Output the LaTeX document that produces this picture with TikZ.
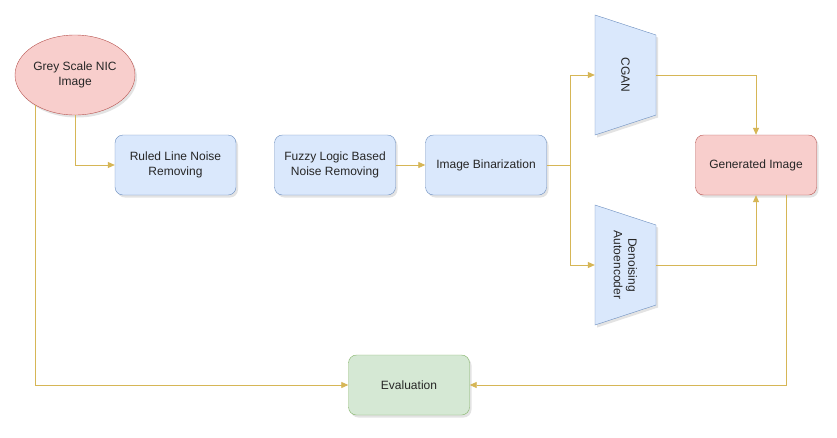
\documentclass[tikz,border=0pt]{standalone}
\usepackage{fontspec}
\setmainfont{Liberation Sans}
\usetikzlibrary{arrows.meta,shadows,shapes.geometric}
\definecolor{bfill}{HTML}{DAE8FC}
\definecolor{bdraw}{HTML}{6C8EBF}
\definecolor{rfill}{HTML}{F8CECC}
\definecolor{rdraw}{HTML}{B85450}
\definecolor{gfill}{HTML}{D5E8D4}
\definecolor{gdraw}{HTML}{82B366}
\definecolor{edge}{HTML}{D6B656}
\tikzset{
  shd/.style={drop shadow={shadow xshift=2pt,shadow yshift=-2.5pt,opacity=0.22,fill=gray}},
  procbox/.style={draw=bdraw,fill=bfill,rounded corners=8pt,minimum width=121pt,minimum height=60pt,align=center,inner sep=0pt,shd},
  conn/.style={draw=edge,line width=0.8pt,-{Triangle[length=7pt,width=6pt]}},
  plain/.style={draw=edge,line width=0.8pt},
  lbl/.style={font=\fontsize{12}{14.5}\selectfont,text=black!85}
}
\begin{document}
\begin{tikzpicture}[x=1pt,y=-1pt]
\useasboundingbox (0,0) rectangle (837,437);
\fill[white] (0,0) rectangle (837,437);

% ellipse
\node[ellipse,draw=rdraw,fill=rfill,minimum width=120pt,minimum height=80pt,inner sep=0pt,shd,align=center,lbl] (grey) at (75,75) {Grey Scale NIC\\Image};

\node[procbox,lbl] (ruled) at (175.5,165) {Ruled Line Noise\\Removing};
\node[procbox,lbl] (fuzzy) at (335,165) {Fuzzy Logic Based\\Noise Removing};
\node[procbox,lbl] (binar) at (486,165) {Image Binarization};
\node[procbox,draw=rdraw,fill=rfill,lbl] (gen) at (756,165) {Generated Image};
\node[procbox,draw=gdraw,fill=gfill,lbl] (eval) at (409,385) {Evaluation};

% trapezoids
\fill[gray,opacity=0.22] (597,17.5) -- (658,37.5) -- (658,117.5) -- (597,137.5) -- cycle;
\draw[draw=bdraw,fill=bfill] (595,15) -- (656,35) -- (656,115) -- (595,135) -- cycle;
\node[minimum width=61pt,minimum height=120pt,inner sep=0pt] (cgan) at (625.5,75) {};
\node[lbl,rotate=-90] at (cgan.center) {CGAN};

\fill[gray,opacity=0.22] (597,207.5) -- (658,227.5) -- (658,307.5) -- (597,327.5) -- cycle;
\draw[draw=bdraw,fill=bfill] (595,205) -- (656,225) -- (656,305) -- (595,325) -- cycle;
\node[minimum width=61pt,minimum height=120pt,inner sep=0pt] (dae) at (625.5,265) {};
\node[lbl,rotate=-90,align=center] at (dae.center) {Denoising\\Autoencoder};

% connectors
\coordinate (gs) at (75,115);
\draw[conn] (grey.south) |- (ruled.west);
\coordinate (gl) at (35,104.8);
\draw[conn] (gl) |- (eval.west);
\draw[conn] (fuzzy.east) -- (binar.west);
\coordinate (br) at (570,165);
\draw[plain] (binar.east) -- (br);
\draw[conn] (br) |- (cgan.west);
\draw[conn] (br) |- (dae.west);
\draw[conn] (cgan.east) -| (gen.north);
\draw[conn] (dae.east) -| (gen.south);
\coordinate (gb) at (786,195);
\draw[conn] (gb) |- (eval.east);
\end{tikzpicture}
\end{document}
